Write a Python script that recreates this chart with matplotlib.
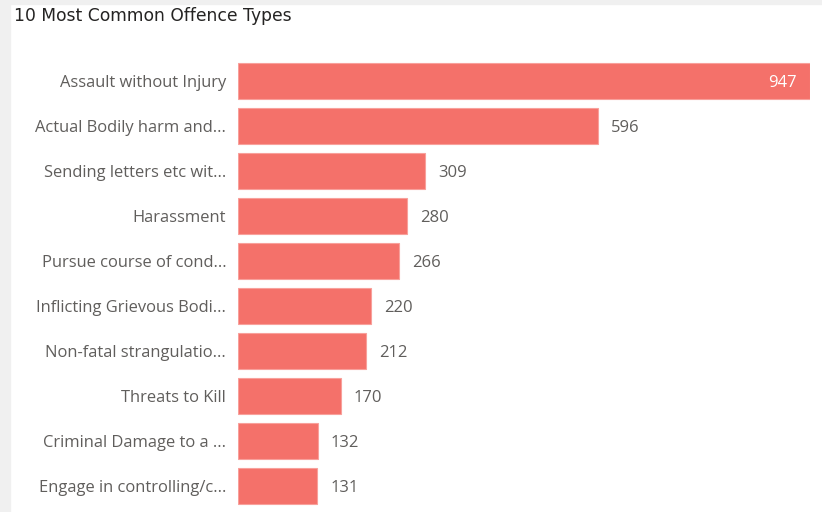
import matplotlib.pyplot as plt
from matplotlib.patches import Rectangle

labels = ["Assault without Injury", "Actual Bodily harm and...", "Sending letters etc wit...",
          "Harassment", "Pursue course of cond...", "Inflicting Grievous Bodi...",
          "Non-fatal strangulatio...", "Threats to Kill", "Criminal Damage to a ...",
          "Engage in controlling/c..."]
values = [947, 596, 309, 280, 266, 220, 212, 170, 132, 131]

bar_color = "#F4716A"
text_color = "#605E5C"

fig = plt.figure(figsize=(8.22, 5.12), dpi=100)
# light grey frame on left and top
fig.patches.append(Rectangle((0, 0), 10 / 822, 1, transform=fig.transFigure,
                             color="#F0F0F0", zorder=0))
fig.patches.append(Rectangle((0, 1 - 4 / 512), 1, 4 / 512, transform=fig.transFigure,
                             color="#F0F0F0", zorder=0))

ax = fig.add_axes([238 / 822, 1 - 508.5 / 512, (810 - 238) / 822, 450 / 512])
y = list(range(len(values)))
ax.barh(y, values, height=0.78, color=bar_color, edgecolor="#F8A09B", linewidth=0.8)
ax.set_xlim(0, 947)
ax.set_ylim(len(values) - 0.5, -0.5)
ax.set_yticks(y)
ax.set_yticklabels(labels, fontsize=11.9, color=text_color, family="Open Sans",
                   va="center_baseline")
ax.tick_params(axis="y", length=0, pad=8.5)
ax.set_xticks([])
for s in ax.spines.values():
    s.set_visible(False)

for yi, v in zip(y, values):
    if v > 800:
        ax.annotate(str(v), (v, yi), xytext=(-9.5, 0), textcoords="offset points",
                    ha="right", va="center_baseline", fontsize=12, color="white",
                    family="Open Sans")
    else:
        ax.annotate(str(v), (v, yi), xytext=(9.5, 0), textcoords="offset points",
                    ha="left", va="center_baseline", fontsize=12, color=text_color,
                    family="Open Sans")

fig.text(14 / 822, 1 - 16 / 512, "10 Most Common Offence Types", fontsize=12.3,
         color="#252423", family="DejaVu Sans", va="center", ha="left")

fig.savefig("out.png", dpi=100)
